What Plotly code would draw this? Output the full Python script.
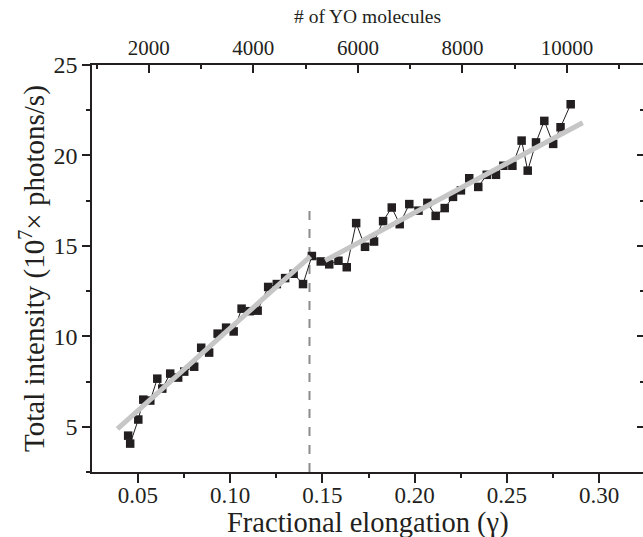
import plotly.graph_objects as go

# Data (fractional elongation gamma, total intensity in 1e7 photons/s)
gamma = [0.0447, 0.0458, 0.0502, 0.0529, 0.0567, 0.0605, 0.0632, 0.0675, 0.0718, 0.0751,
         0.0805, 0.0843, 0.0886, 0.0932, 0.0978, 0.1019, 0.1062, 0.1106, 0.1149, 0.1206,
         0.1253, 0.1298, 0.1344, 0.1395, 0.1443, 0.1491, 0.1537, 0.1587, 0.1632, 0.1683,
         0.1731, 0.1780, 0.1829, 0.1876, 0.1919, 0.1971, 0.2021, 0.2069, 0.2114, 0.2163,
         0.2208, 0.2251, 0.2296, 0.2345, 0.2391, 0.2441, 0.2481, 0.2530, 0.2580, 0.2613,
         0.2658, 0.2703, 0.2751, 0.2791, 0.2846]
intensity = [4.51, 4.07, 5.40, 6.50, 6.45, 7.66, 7.11, 7.94, 7.72, 8.05,
             8.32, 9.37, 9.10, 10.15, 10.48, 10.27, 11.53, 11.39, 11.42, 12.73,
             12.89, 13.22, 13.46, 12.89, 14.44, 14.14, 13.98, 14.18, 13.82, 16.26,
             14.95, 15.24, 16.37, 17.12, 16.20, 17.31, 16.95, 17.38, 16.66, 17.09,
             17.71, 18.07, 18.74, 18.26, 18.93, 18.93, 19.43, 19.43, 20.82, 19.16,
             20.72, 21.91, 20.64, 21.56, 22.83]

fit1_x = [0.0389, 0.1435]
fit1_y = [4.88, 14.42]
fit2_x = [0.1515, 0.2911]
fit2_y = [14.19, 21.81]

dash_x = [0.143, 0.143]
dash_y = [2.5, 17.0]

x_range = [0.0251, 0.3238]
y_range = [2.5, 25]
top_range = [914, 11453]  # # of YO molecules on the top axis

FONT = "Liberation Serif"
INK = "#231f20"

fig = go.Figure()
fig.add_trace(go.Scatter(x=dash_x, y=dash_y, mode="lines",
                         line=dict(color="#8c8c8c", width=2, dash="dash"),
                         showlegend=False, hoverinfo="skip"))
fig.add_trace(go.Scatter(x=gamma, y=intensity, mode="lines+markers",
                         line=dict(color=INK, width=1),
                         marker=dict(symbol="square", size=8.5, color=INK),
                         showlegend=False))
fig.add_trace(go.Scatter(x=fit1_x, y=fit1_y, mode="lines",
                         line=dict(color="#c6c6c6", width=5),
                         showlegend=False))
fig.add_trace(go.Scatter(x=fit2_x, y=fit2_y, mode="lines",
                         line=dict(color="#c6c6c6", width=5),
                         showlegend=False))

fig.update_layout(
    width=643, height=537,
    margin=dict(l=92, r=0, t=65, b=65),
    paper_bgcolor="white", plot_bgcolor="white",
    font=dict(family=FONT, color=INK),
    xaxis=dict(range=x_range, dtick=0.05, tick0=0, tickformat=".2f",
               ticks="outside", ticklen=9, tickwidth=1.5, tickcolor=INK,
               minor=dict(dtick=0.025, ticks="outside", ticklen=4, tickwidth=1.5, tickcolor=INK),
               showline=True, linecolor=INK, linewidth=1.5,
               showgrid=False, zeroline=False, ticklabelstandoff=-7,
               tickfont=dict(size=23, family=FONT)),
    xaxis2=dict(range=top_range, overlaying="x", side="top", anchor="y",
                dtick=2000, tick0=0, tickformat="d",
                ticks="inside", ticklen=8, tickwidth=1.5, tickcolor=INK,
                minor=dict(dtick=1000, ticks="inside", ticklen=4, tickwidth=1.5, tickcolor=INK),
                showline=True, linecolor=INK, linewidth=1.5,
                showgrid=False, zeroline=False,
                tickfont=dict(size=21, family=FONT)),
    yaxis=dict(range=y_range, dtick=5, tick0=0,
               ticks="outside", ticklen=8, tickwidth=1.5, tickcolor=INK,
               minor=dict(dtick=2.5, ticks="outside", ticklen=4, tickwidth=1.5, tickcolor=INK),
               showline=True, linecolor=INK, linewidth=1.5,
               showgrid=False, zeroline=False,
               tickfont=dict(size=24, family=FONT)),
    yaxis2=dict(range=y_range, overlaying="y", side="right", anchor="x",
                dtick=5, tick0=0, showticklabels=False,
                ticks="inside", ticklen=6, tickwidth=1.5, tickcolor=INK,
                minor=dict(dtick=2.5, ticks="inside", ticklen=3, tickwidth=1.5, tickcolor=INK),
                showline=False, showgrid=False, zeroline=False),
    annotations=[
        dict(text="Fractional elongation (γ)", xref="paper", yref="paper",
             x=0.5, y=-0.125, xanchor="center", yanchor="middle", showarrow=False,
             font=dict(size=28.5, family=FONT)),
        dict(text="# of YO molecules", xref="paper", yref="paper",
             x=0.5, y=1.118, xanchor="center", yanchor="middle", showarrow=False,
             font=dict(size=19.5, family=FONT)),
        dict(text="Total intensity (10<sup>7</sup>× photons/s)", xref="paper", yref="paper",
             x=-0.108, y=0.5, xanchor="center", yanchor="middle", showarrow=False,
             textangle=-90, font=dict(size=29, family=FONT)),
    ],
)

# attach an invisible trace so the top (molecule count) and right axes render
fig.add_trace(go.Scatter(x=top_range, y=y_range, xaxis="x2", yaxis="y2",
                         mode="markers", marker=dict(opacity=0), showlegend=False,
                         hoverinfo="skip"))

fig.write_html("out.html")
